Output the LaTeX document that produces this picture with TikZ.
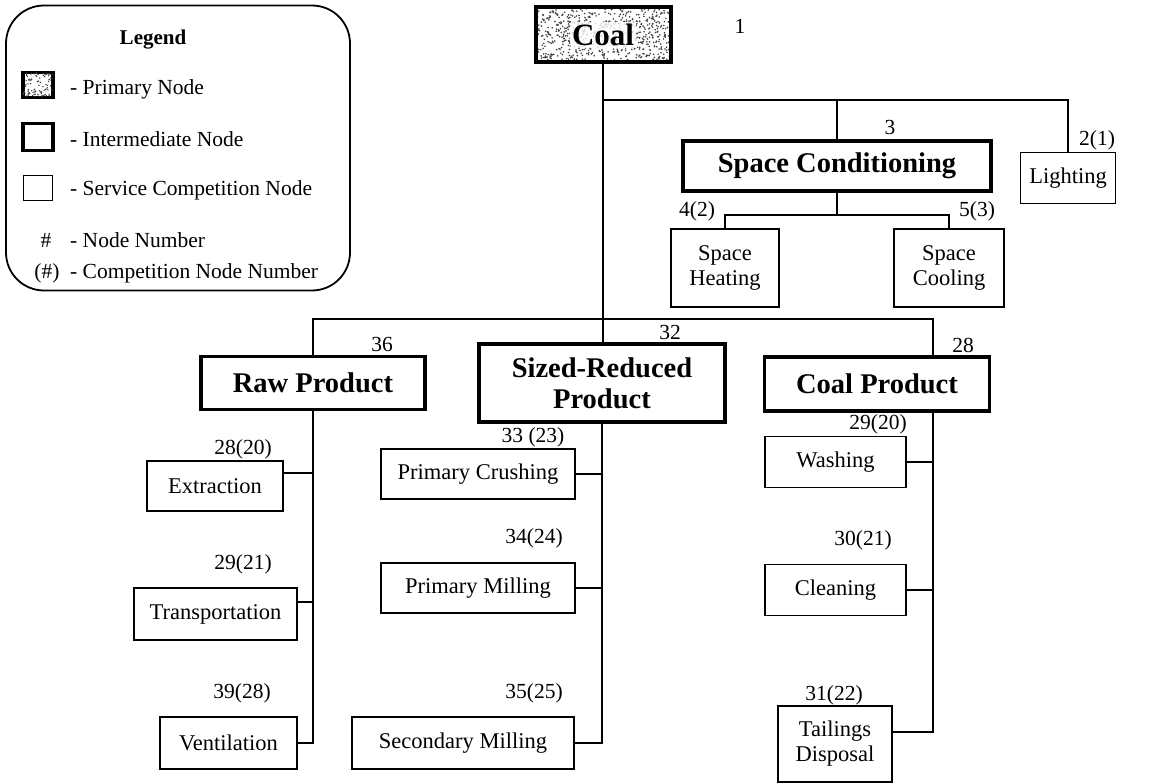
\documentclass[tikz,border=0pt]{standalone}
\usepackage{fontspec}
\setmainfont{Liberation Serif}
\usetikzlibrary{calc}
\begin{document}
\begin{tikzpicture}[x=1pt,y=-1pt,
  conn/.style={line width=1.8pt},
  sz/.style 2 args={minimum width=#1pt, minimum height=#2pt},
  svc/.style={draw, line width=1.8pt, inner sep=0pt, align=center,
    font=\fontsize{22.5}{25}\selectfont},
  mid/.style={draw, line width=3.6pt, inner sep=0pt, align=center,
    font=\bfseries\fontsize{28.5}{31}\selectfont},
  prim/.style={draw, line width=4pt, inner sep=0pt, fill=white},
  num/.style={inner sep=0pt, font=\fontsize{21.5}{25}\selectfont},
  speck/.style={fill=black!75},
]
\useasboundingbox (0,0) rectangle (1152,784);
\pgfmathsetseed{17}

% ---------- legend ----------
\node[draw, line width=1.8pt, rounded corners=38pt, sz={344}{285}] (legend) at (178,148) {};
\node[num, font=\bfseries\fontsize{21}{24}\selectfont] (lgtitle) at (153,40) {Legend};
\node[prim, line width=3.5pt, sz={30}{25}] (lgprim) at (38,85) {};
\begin{scope}
  \clip (lgprim.south west) rectangle (lgprim.north east);
  \foreach \i in {1,...,90} \fill[speck] ({23+rnd*30},{72+rnd*25}) circle (0.8);
\end{scope}
\node[mid, sz={30}{27}] (lgmid) at (38,137) {};
\node[svc, sz={29}{25}] (lgsvc) at (38,188) {};
\node[num, anchor=west] (lgt1) at (70,89) {- Primary Node};
\node[num, anchor=west] (lgt2) at (70,139) {- Intermediate Node};
\node[num, anchor=west] (lgt3) at (70,190) {- Service Competition Node};
\node[num] (lghash) at (46,240) {\#};
\node[num, anchor=west] (lgt4) at (70,240) {- Node Number};
\node[num] (lgphash) at (47,273) {(\#)};
\node[num, anchor=west] (lgt5) at (70,273) {- Competition Node Number};

% ---------- primary node ----------
\node[prim, sz={135}{55}] (coal) at (603,35) {};
\begin{scope}
  \clip (coal.south west) rectangle (coal.north east);
  \foreach \i in {1,...,700} \fill[speck] ({535+rnd*135},{7+rnd*55}) circle (0.9);
\end{scope}
\node[fill=white, fill opacity=0.8, text opacity=1, inner sep=2pt, rounded corners=3pt,
  font=\bfseries\fontsize{31}{34}\selectfont] (coaltxt) at (coal) {Coal};
\node[prim, fill=none, sz={135}{55}] (coalframe) at (coal) {};
\node[num] (n1) at (740,26) {1};

% ---------- upper branch ----------
\node[svc, sz={95}{51}] (light) at (1068,178) {Lighting};
\node[mid, sz={308}{50}] (sc) at (837,166) {Space Conditioning};
\node[svc, sz={108}{78}] (heat) at (725,268) {Space\\Heating};
\node[svc, sz={110}{78}] (cool) at (949,268) {Space\\Cooling};

\node[num] (n21) at (1097,140) {2(1)};
\node[num] (n3) at (890,127) {3};
\node[num] (n42) at (697,211) {4(2)};
\node[num] (n53) at (977,211) {5(3)};

% ---------- lower branch ----------
\node[mid, sz={224}{53}] (raw) at (313,383) {Raw Product};
\node[mid, sz={246}{78}] (sized) at (602,383) {Sized-Reduced\\Product};
\node[mid, sz={225}{54}] (cp) at (877,384) {Coal Product};

\node[svc, sz={136}{50}] (ext) at (215,486) {Extraction};
\node[svc, sz={163}{52}] (trans) at (215.5,614) {Transportation};
\node[svc, sz={137}{52}] (vent) at (228.5,743) {Ventilation};

\node[svc, sz={194}{50}] (pcr) at (478,474) {Primary Crushing};
\node[svc, sz={194}{50}] (pmi) at (478,588) {Primary Milling};
\node[svc, sz={222}{52}] (smi) at (463,743) {Secondary Milling};

\node[svc, sz={141}{51}] (wash) at (835.5,462) {Washing};
\node[svc, sz={141}{51}] (clean) at (835.5,590) {Cleaning};
\node[svc, sz={114}{76}] (tail) at (835,744) {Tailings\\Disposal};

\node[num] (n36) at (382,344) {36};
\node[num] (n32) at (670,332) {32};
\node[num] (n28) at (963,345) {28};
\node[num] (n2820) at (243,449) {28(20)};
\node[num] (n2921) at (243,564) {29(21)};
\node[num] (n3928) at (242,693) {39(28)};
\node[num] (n3323) at (533,437) {33 (23)};
\node[num] (n3424) at (534,538) {34(24)};
\node[num] (n3525) at (534,693) {35(25)};
\node[num] (n2920) at (878,424) {29(20)};
\node[num] (n3021) at (863,540) {30(21)};
\node[num] (n3122) at (834,695) {31(22)};

% ---------- connectors ----------
\coordinate (jA) at (603,100);
\coordinate (jB) at (603,319);
\coordinate (jC) at (837,215);
\coordinate (cpv) at (933,319);
\coordinate (ea) at ([yshift=13pt]ext.east);
\coordinate (ta) at ([yshift=12pt]trans.east);
\coordinate (tla) at ([yshift=12pt]tail.east);

\draw[conn] (coal.south) -- (coal.south |- sized.north);
\draw[conn] (jA) -| (light.north);
\draw[conn] (sc.north |- jA) -- (sc.north);
\draw[conn] (sc.south) -- (jC);
\draw[conn] (heat.north) |- (jC) -| (cool.north);

\draw[conn] (raw.north) |- (jB) -- (cpv) -- (cpv |- cp.north);

\draw[conn] (raw.south) |- (vent.east);
\draw[conn] (ea) -- (raw.south |- ea);
\draw[conn] (ta) -- (raw.south |- ta);

\draw[conn] (sized.south) |- (smi.east);
\draw[conn] (pcr.east) -- (sized.south |- pcr.east);
\draw[conn] (pmi.east) -- (sized.south |- pmi.east);

\draw[conn] (cpv |- cp.south) |- (tla);
\draw[conn] (wash.east) -- (cpv |- wash.east);
\draw[conn] (clean.east) -- (cpv |- clean.east);
\end{tikzpicture}
\end{document}
